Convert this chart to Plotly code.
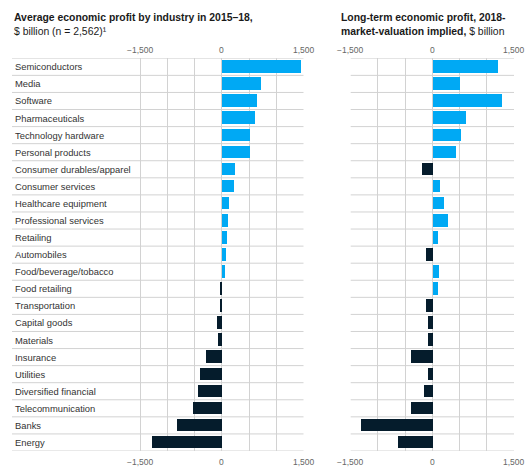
import plotly.graph_objects as go

# Industries, top to bottom
industries = [
    "Semiconductors", "Media", "Software", "Pharmaceuticals", "Technology hardware",
    "Personal products", "Consumer durables/apparel", "Consumer services",
    "Healthcare equipment", "Professional services", "Retailing", "Automobiles",
    "Food/beverage/tobacco", "Food retailing", "Transportation", "Capital goods",
    "Materials", "Insurance", "Utilities", "Diversified financial",
    "Telecommunication", "Banks", "Energy",
]

# Average economic profit 2015-18, $ billion
avg_profit_2015_18 = [
    1450, 720, 645, 605, 525, 525, 245, 225, 135, 115, 90, 75,
    50, -20, -25, -80, -75, -290, -400, -435, -530, -815, -1275,
]

# Long-term economic profit implied by 2018 market valuation, $ billion
long_term_profit_implied = [
    1195, 510, 1275, 605, 525, 435, -190, 130, 210, 280, 90, -130,
    115, 90, -130, -90, -90, -400, -90, -165, -400, -1310, -645,
]

tick_values = [-1500, -1000, -500, 0, 500, 1000, 1500]
tick_labels = ["\u22121,500", "", "", "0", "", "", "1,500"]

BLUE = "#00A9F4"
NAVY = "#051C2C"
GRID = "#d2d2d2"
FONT = "Liberation Sans"

W, H = 525, 468


def bar_colors(vals):
    return [BLUE if v >= 0 else NAVY for v in vals]


rows = list(range(len(industries)))
n = len(industries)

fig = go.Figure()
fig.add_trace(go.Bar(
    x=avg_profit_2015_18, y=rows, orientation="h", width=0.74,
    marker=dict(color=bar_colors(avg_profit_2015_18), line=dict(width=0)),
    xaxis="x", yaxis="y", hoverinfo="skip",
))
fig.add_trace(go.Bar(
    x=long_term_profit_implied, y=rows, orientation="h", width=0.74,
    marker=dict(color=bar_colors(long_term_profit_implied), line=dict(width=0)),
    xaxis="x2", yaxis="y2", hoverinfo="skip",
))

y_dom = [1 - 451 / H, 1 - 58.3 / H]
common_x = dict(
    tickvals=tick_values, showticklabels=False, showgrid=True,
    gridcolor=GRID, gridwidth=1, zeroline=False, showline=False, ticks="",
)
common_y = dict(
    range=[n - 0.5, -0.5], showgrid=False, showticklabels=False,
    zeroline=False, showline=False, ticks="", domain=y_dom,
)

shapes = []
for xr, yr in (("x", "y"), ("x2", "y2")):
    for k in range(n + 1):
        shapes.append(dict(
            type="line", xref=f"{xr} domain", yref=yr, x0=0, x1=1,
            y0=k - 0.5, y1=k - 0.5, line=dict(color=GRID, width=1), layer="below",
        ))

annotations = []
# Category labels inside the left panel
for i, name in enumerate(industries):
    annotations.append(dict(
        text=name, xref="x domain", yref="y", x=0.002, y=i, xanchor="left",
        yanchor="middle", showarrow=False, font=dict(size=9.4, color="#333333", family=FONT),
    ))
# Tick labels above and below both panels
for xr in ("x", "x2"):
    for v, t in zip(tick_values, tick_labels):
        if not t:
            continue
        for yy in (1 - 50 / H, 1 - 461.5 / H):
            annotations.append(dict(
                text=t, xref=xr, yref="paper", x=v, y=yy, xanchor="center",
                yanchor="middle", showarrow=False,
                font=dict(size=8.5, color="#666666", family=FONT),
            ))

# Panel titles
annotations.append(dict(
    text="<b>Average economic profit by industry in 2015\u201318,</b><br>$ billion (n = 2,562)\u00b9",
    xref="paper", yref="paper", x=12 / W, y=1 - 10 / H, xanchor="left", yanchor="top",
    align="left", showarrow=False, font=dict(size=10.4, color="#1a1a1a", family=FONT),
))
annotations.append(dict(
    text="<b>Long-term economic profit, 2018-</b><br><b>market-valuation implied,</b> $ billion",
    xref="paper", yref="paper", x=339 / W, y=1 - 10 / H, xanchor="left", yanchor="top",
    align="left", showarrow=False, font=dict(size=10.4, color="#1a1a1a", family=FONT),
))

fig.update_layout(
    width=W, height=H, margin=dict(l=0, r=0, t=0, b=0),
    paper_bgcolor="white", plot_bgcolor="white", showlegend=False,
    bargap=0, font=dict(family=FONT),
    xaxis=dict(domain=[12 / W, 303.5 / W], range=[-3850, 1500], anchor="y", **common_x),
    yaxis=dict(anchor="x", **common_y),
    xaxis2=dict(domain=[350.7 / W, 514 / W], range=[-1500, 1500], anchor="y2", **common_x),
    yaxis2=dict(anchor="x2", **common_y),
    shapes=shapes, annotations=annotations,
)

fig.write_html("out.html")
